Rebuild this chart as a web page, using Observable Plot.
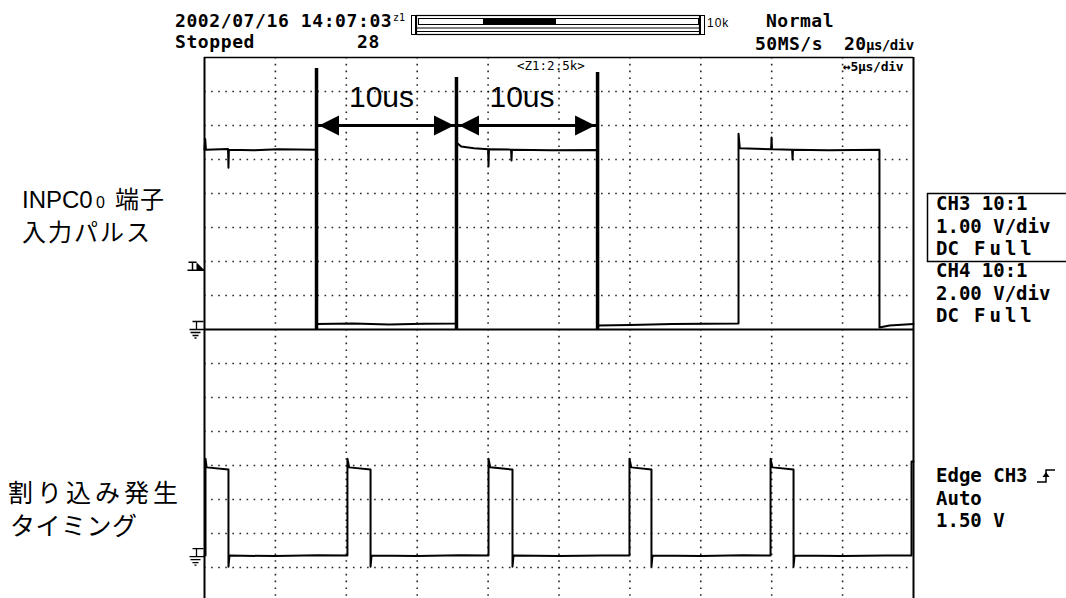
<!DOCTYPE html>
<html><head><meta charset="utf-8">
<script src="https://cdn.jsdelivr.net/npm/d3@7"></script>
<script src="https://cdn.jsdelivr.net/npm/@observablehq/plot@0.6"></script>
<style>
html,body{margin:0;padding:0;background:#fff;}
#wrap{position:relative;width:1066px;height:598px;overflow:hidden;background:#fff;}
#wrap svg{position:absolute;left:0;top:0;}
</style></head><body><div id="wrap"></div>
<script>
// ---- Data (time in µs on the 5 µs/div zoom window, volts per channel) ----
const ch3Time = [0,0.05,0.10,1.66,1.69,1.72,3.5,5.2,7.90,7.90,10.5,13.0,15.5,17.77,17.77,18.10,19.0,20.00,20.03,20.06,21.62,21.65,21.68,24.5,27.72,27.72,30.0,33.0,37.66,37.66,37.75,39.96,39.99,40.02,41.44,41.47,41.50,44.0,47.60,47.60,48.3,50.0];
const ch3Volt = [5.29,5.60,5.29,5.31,4.76,5.29,5.27,5.30,5.29,0.16,0.18,0.15,0.17,0.18,5.50,5.38,5.33,5.30,4.80,5.30,5.29,4.97,5.29,5.27,5.28,0.12,0.13,0.16,0.18,5.76,5.33,5.30,5.65,5.30,5.29,5.00,5.29,5.27,5.29,0.06,0.12,0.16];
const ch4Time = [0,0.07,0.07,0.15,1.69,1.69,1.76,5.0,8.0,10.08,10.08,10.2,11.71,11.71,11.78,15.0,18.0,20.03,20.03,20.15,21.72,21.72,21.79,25.0,28.0,29.97,29.97,30.1,31.52,31.52,31.59,35.0,38.0,39.92,39.92,40.05,41.54,41.54,41.61,45.0,48.0,49.86,49.86,50.0];
const ch4Volt = [0.06,0.06,5.76,5.25,5.12,-0.59,0.06,0.03,0.08,0.06,5.76,5.25,5.12,-0.59,0.06,0.04,0.08,0.06,5.76,5.25,5.12,-0.59,0.06,0.03,0.07,0.06,5.76,5.25,5.12,-0.59,0.06,0.04,0.08,0.06,5.76,5.25,5.12,-0.59,0.06,0.04,0.07,0.06,5.6,5.6];
const ch3VoltsPerDiv = 1, ch4VoltsPerDiv = 2;
const ch3GroundDiv = 0, ch4GroundDiv = -6.68;
const triggerDiv = 1.74;
const cursorTimes = [7.90, 17.77, 27.72];
const cursorTops = [7.68, 7.41, 7.56];
const spanStarts = [7.90, 17.77];
const spanEnds = [17.77, 27.72];
const spanLabels = ["10us", "10us"];
const arrowDiv = 6.0, labelDiv = 6.53;
const gridTimes = [5,10,15,20,25,30,35,40,45];
const gridDivs = [7,6,5,4,3,2,1,-1,-2,-3,-4,-5,-6,-7];

const ch3 = ch3Time.map((t,i)=>({t, y: ch3GroundDiv + ch3Volt[i]/ch3VoltsPerDiv}));
const ch4 = ch4Time.map((t,i)=>({t, y: ch4GroundDiv + ch4Volt[i]/ch4VoltsPerDiv}));
const cursors = cursorTimes.map((t,i)=>({t, top: cursorTops[i]}));
const spans = spanStarts.map((s,i)=>({start:s, end:spanEnds[i], label:spanLabels[i]}));
const heads = spans.flatMap(d=>[{t:d.start, rot:180},{t:d.end, rot:0}]);

const arrowHead = {draw(c){ c.moveTo(-2.5,0); c.lineTo(-22.5,-10); c.lineTo(-22.5,10); c.closePath(); }};
const groundSym = {draw(c){
  c.moveTo(-12,-8); c.lineTo(-1,-8); c.moveTo(-8,-8); c.lineTo(-8,0);
  c.moveTo(-15,0); c.lineTo(0,0); c.moveTo(-14,3); c.lineTo(-4,3);
  c.moveTo(-12,6); c.lineTo(-6,6); c.moveTo(-10,8.5); c.lineTo(-8,8.5); }};
const trigT = {draw(c){ c.moveTo(-16,-8); c.lineTo(-8,-8); c.moveTo(-12,-8); c.lineTo(-12,0); c.moveTo(-17,0); c.lineTo(0,0); }};
const trigTri = {draw(c){ c.moveTo(-8,-8); c.lineTo(0,0); c.lineTo(-8,0); c.closePath(); }};

const dotted = {stroke:"#000", strokeWidth:1.6, strokeOpacity:0.85};
const plot = Plot.plot({
  width: 1066, height: 598,
  marginLeft: 204, marginRight: 153, marginTop: 57, marginBottom: 0,
  x: {domain:[0,50], axis:null},
  y: {domain:[-8,8], range:[601,57], axis:null},
  style: {background:"transparent", overflow:"visible"},
  marks: [
    Plot.ruleX(gridTimes, {...dotted, strokeDasharray:"1.6 5.2"}),
    Plot.ruleY(gridDivs, {...dotted, strokeDasharray:"1.6 5.49"}),
    Plot.ruleY([8], {stroke:"black", strokeWidth:1.5}),
    Plot.ruleY([0], {stroke:"black", strokeWidth:2}),
    Plot.ruleX([0,50], {stroke:"black", strokeWidth:2}),
    Plot.line(ch3, {x:"t", y:"y", stroke:"black", strokeWidth:2}),
    Plot.line(ch4, {x:"t", y:"y", stroke:"black", strokeWidth:2}),
    Plot.ruleX(cursors, {x:"t", y1:0, y2:"top", stroke:"black", strokeWidth:3.5}),
    Plot.ruleY(spans, {y:arrowDiv, x1:"start", x2:"end", stroke:"black", strokeWidth:3}),
    Plot.dot(heads, {x:"t", y:arrowDiv, symbol:arrowHead, rotate:"rot", fill:"black", stroke:"none"}),
    Plot.text(spans, {x:d=>(d.start+d.end)/2, y:labelDiv, text:"label", dx:-5, fontSize:30,
      fontFamily:"Liberation Sans, Arial, sans-serif", textAnchor:"middle", lineAnchor:"bottom", fill:"black"}),
    Plot.dot([ch3GroundDiv, ch4GroundDiv], {x:0, y:d=>d, symbol:groundSym, fill:"none", stroke:"black", strokeWidth:1.3}),
    Plot.dot([triggerDiv], {x:0, y:d=>d, symbol:trigT, fill:"none", stroke:"black", strokeWidth:1.5}),
    Plot.dot([triggerDiv], {x:0, y:d=>d, symbol:trigTri, fill:"black", stroke:"none"})
  ]
});
document.getElementById("wrap").appendChild(plot);

// ---- Overlay: scope status texts and decorations ----
const NS = "http://www.w3.org/2000/svg";
const ov = document.createElementNS(NS, "svg");
ov.setAttribute("width", 1066); ov.setAttribute("height", 598);
const mono = "DejaVu Sans Mono, Liberation Mono, monospace";
const sans = "Liberation Sans, Arial, 'Noto Sans CJK JP', sans-serif";
const labels = [
  ["2002/07/16 14:07:03",175,27,18,"bold",mono,0.6],
  ["z1",393,21,10,"normal",mono,0],
  ["10k",707,27,12,"normal",sans,1],
  ["Normal",766,27,18,"bold",mono,0.5],
  ["Stopped",175,48,18,"bold",mono,0.6],
  ["28",357,48,18,"bold",mono,0.6],
  ["50MS/s",755,50,18,"bold",mono,0.5],
  ["20",844,50,18,"bold",mono,0.5],
  ["μs/div",866,50,14,"bold",mono,-0.5],
  ["<Z1:2.5k>",517,70,12.5,"normal",mono,0],
  ["↔5μs/div",843,71,13,"bold",mono,-0.3],
  ["CH3 10:1",936,210,19,"bold",mono,0],
  ["1.00 V/div",936,233,19,"bold",mono,0],
  ["DC",936,255,19,"bold",mono,0],
  ["Full",974,255,19,"bold",mono,4],
  ["CH4 10:1",936,277,19,"bold",mono,0],
  ["2.00 V/div",936,300,19,"bold",mono,0],
  ["DC",936,322,19,"bold",mono,0],
  ["Full",974,322,19,"bold",mono,4],
  ["Edge CH3",936,482,19,"bold",mono,0],
  ["Auto",936,505,19,"bold",mono,0],
  ["1.50 V",936,527,19,"bold",mono,0],
  ["INPC0",22,208,24,"normal",sans,0],
  ["0",96,208,16,"normal",sans,0],
  ["端子",115,208,24,"normal",sans,1],
  ["入力パルス",22,241,24,"normal",sans,2],
  ["割り込み発生",8,502,25,"normal",sans,4],
  ["タイミング",10,535,25,"normal",sans,0.5]
];
for (const [s,x,y,fs,fw,ff,ls] of labels) {
  const t = document.createElementNS(NS,"text");
  t.setAttribute("x",x); t.setAttribute("y",y);
  t.setAttribute("font-size",fs); t.setAttribute("font-weight",fw);
  t.setAttribute("font-family",ff); t.setAttribute("letter-spacing",ls);
  t.setAttribute("fill","black"); t.textContent = s; ov.appendChild(t);
}
const shapes = [
  ["rect",{x:411.5,y:15.5,width:4,height:19,fill:"none",stroke:"black","stroke-width":1}],
  ["rect",{x:416.5,y:15.5,width:283,height:19,fill:"none",stroke:"black","stroke-width":1.2}],
  ["rect",{x:418.5,y:18.5,width:280,height:6,fill:"none",stroke:"black","stroke-width":1}],
  ["rect",{x:483,y:18.5,width:73,height:6,fill:"black"}],
  ["line",{x1:416,x2:700,y1:28,y2:28,stroke:"black","stroke-width":1}],
  ["line",{x1:416,x2:700,y1:31.5,y2:31.5,stroke:"black","stroke-width":1}],
  ["rect",{x:700.5,y:15.5,width:4,height:19,fill:"none",stroke:"black","stroke-width":1}],
  ["rect",{x:927.5,y:193.5,width:160,height:68,fill:"none",stroke:"black","stroke-width":1.5}],
  ["path",{d:"M1037,482H1046V470H1055",fill:"none",stroke:"black","stroke-width":1.5}],
  ["path",{d:"M1042.5,477L1046,472L1049.5,477Z",fill:"black"}]
];
for (const [tag,attrs] of shapes) {
  const e = document.createElementNS(NS,tag);
  for (const k in attrs) e.setAttribute(k, attrs[k]);
  ov.appendChild(e);
}
document.getElementById("wrap").appendChild(ov);
</script></body></html>
